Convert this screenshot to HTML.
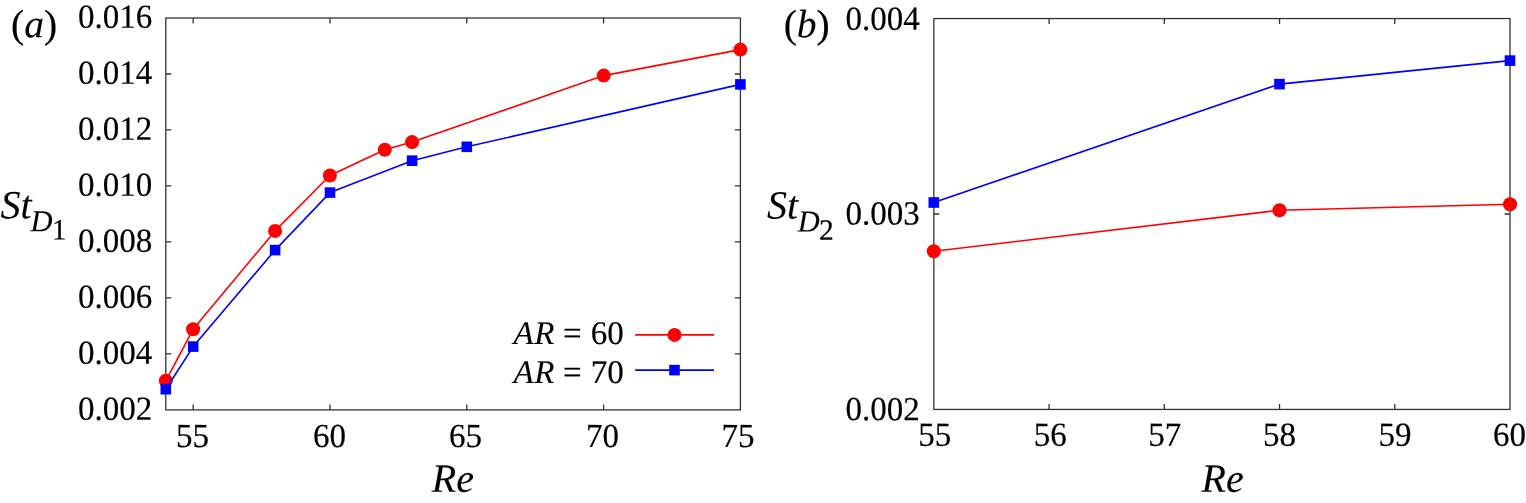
<!DOCTYPE html>
<html lang="en">
<head>
<meta charset="utf-8">
<title>Strouhal number versus Reynolds number</title>
<style>
html,body{margin:0;padding:0;background:#fff;}
body{width:1526px;height:503px;overflow:hidden;}
svg{display:block;}
text{font-family:"Liberation Serif",serif;fill:#000;stroke:#000;stroke-width:0.2px;}
.tk{font-size:33px;}
.lb{font-size:40px;font-style:italic;stroke-width:0.1px;}
.pn{font-size:39.5px;}
.sub{font-size:30.5px;font-style:italic;stroke-width:0.1px;}
.sub2{font-size:29.5px;}
.lg{font-size:33px;}
.it{font-style:italic;stroke-width:0.1px;}
</style>
</head>
<body>
<svg width="1526" height="503" viewBox="0 0 1526 503">
<rect width="1526" height="503" fill="#fff"/>
<!-- panel (a) -->
<rect x="165.8" y="18" width="574.6" height="391.9" fill="none" stroke="#333" stroke-width="1.3"/>
<path d="M193.16 409.9v-5.5M193.16 18v5.5M329.97 409.9v-5.5M329.97 18v5.5M466.78 409.9v-5.5M466.78 18v5.5M603.59 409.9v-5.5M603.59 18v5.5M165.8 353.91h5.5M740.4 353.91h-5.5M165.8 297.93h5.5M740.4 297.93h-5.5M165.8 241.94h5.5M740.4 241.94h-5.5M165.8 185.96h5.5M740.4 185.96h-5.5M165.8 129.97h5.5M740.4 129.97h-5.5M165.8 73.99h5.5M740.4 73.99h-5.5" fill="none" stroke="#333" stroke-width="1.3"/>
<g class="tk" text-anchor="end">
<text transform="translate(152.2 27.8) rotate(0.03) scale(1 1.02)">0.016</text>
<text transform="translate(152.2 83.79) rotate(0.03) scale(1 1.02)">0.014</text>
<text transform="translate(152.2 139.77) rotate(0.03) scale(1 1.02)">0.012</text>
<text transform="translate(152.2 195.76) rotate(0.03) scale(1 1.02)">0.010</text>
<text transform="translate(152.2 251.74) rotate(0.03) scale(1 1.02)">0.008</text>
<text transform="translate(152.2 307.73) rotate(0.03) scale(1 1.02)">0.006</text>
<text transform="translate(152.2 363.71) rotate(0.03) scale(1 1.02)">0.004</text>
<text transform="translate(152.2 419.7) rotate(0.03) scale(1 1.02)">0.002</text>
</g>
<g class="tk" text-anchor="middle">
<text transform="translate(192.56 447.1) rotate(0.03) scale(1 1.02)">55</text>
<text transform="translate(329.47 447.1) rotate(0.03) scale(1 1.02)">60</text>
<text transform="translate(465.38 447.1) rotate(0.03) scale(1 1.02)">65</text>
<text transform="translate(602.49 447.1) rotate(0.03) scale(1 1.02)">70</text>
<text transform="translate(737.9 447.1) rotate(0.03) scale(1 1.02)">75</text>
</g>
<g fill="#ff0000" stroke="none">
<polyline points="165.8,380.8 193.1,329.3 275.1,230.9 329.9,175.5 384.8,149.8 412.1,142.1 603.7,75.6 740.4,49.6" fill="none" stroke="#ff0000" stroke-width="1.6" stroke-linejoin="round"/>
<circle cx="165.8" cy="380.8" r="7.0"/>
<circle cx="193.1" cy="329.3" r="7.0"/>
<circle cx="275.1" cy="230.9" r="7.0"/>
<circle cx="329.9" cy="175.5" r="7.0"/>
<circle cx="384.8" cy="149.8" r="7.0"/>
<circle cx="412.1" cy="142.1" r="7.0"/>
<circle cx="603.7" cy="75.6" r="7.0"/>
<circle cx="740.4" cy="49.6" r="7.0"/>
</g>
<g fill="#0000ff" stroke="none">
<polyline points="165.8,389.2 193.2,346.6 275.1,250.1 330,192.6 412.1,160.7 466.8,146.8 740.4,84.4" fill="none" stroke="#0000ff" stroke-width="1.6" stroke-linejoin="round"/>
<rect x="160.5" y="383.9" width="10.6" height="10.6"/>
<rect x="187.9" y="341.3" width="10.6" height="10.6"/>
<rect x="269.8" y="244.8" width="10.6" height="10.6"/>
<rect x="324.7" y="187.3" width="10.6" height="10.6"/>
<rect x="406.8" y="155.4" width="10.6" height="10.6"/>
<rect x="461.5" y="141.5" width="10.6" height="10.6"/>
<rect x="735.1" y="79.1" width="10.6" height="10.6"/>
</g>
<text class="lg" transform="translate(513.4 344) rotate(0.03)"><tspan class="it">A</tspan><tspan class="it" dx="0.6">R</tspan><tspan dx="0.5"> = </tspan><tspan dx="0.7">60</tspan></text>
<text class="lg" transform="translate(513.4 383) rotate(0.03)"><tspan class="it">A</tspan><tspan class="it" dx="0.6">R</tspan><tspan dx="0.5"> = </tspan><tspan dx="0.7">70</tspan></text>
<path d="M635.2 334.9H714" stroke="#ff0000" stroke-width="1.6"/><circle cx="674.5" cy="334.9" r="7.0" fill="#ff0000"/>
<path d="M635.2 370.1H714" stroke="#0000ff" stroke-width="1.6"/><rect x="669.2" y="364.8" width="10.6" height="10.6" fill="#0000ff"/>
<text class="pn" transform="translate(11 37.3) rotate(0.03)">(<tspan class="it">a</tspan>)</text>
<text class="lb" transform="translate(0.6 218.2) rotate(0.03)">St</text>
<text class="sub" transform="translate(30.5 231.3) rotate(0.03)">D</text>
<text class="sub2" transform="translate(51.7 239.6) rotate(0.03)">1</text>
<text class="lb" transform="translate(431.7 491.7) rotate(0.03)">Re</text>
<!-- panel (b) -->
<rect x="933.85" y="18.55" width="576.15" height="390.9" fill="none" stroke="#333" stroke-width="1.3"/>
<path d="M1049.08 409.45v-5.5M1049.08 18.55v5.5M1164.31 409.45v-5.5M1164.31 18.55v5.5M1279.54 409.45v-5.5M1279.54 18.55v5.5M1394.77 409.45v-5.5M1394.77 18.55v5.5M933.85 214h5.5M1510 214h-5.5" fill="none" stroke="#333" stroke-width="1.3"/>
<g class="tk" text-anchor="end">
<text transform="translate(919.85 29.75) rotate(0.03) scale(1 1.02)">0.004</text>
<text transform="translate(919.85 224.6) rotate(0.03) scale(1 1.02)">0.003</text>
<text transform="translate(919.85 420.15) rotate(0.03) scale(1 1.02)">0.002</text>
</g>
<g class="tk" text-anchor="middle">
<text transform="translate(934.85 445.65) rotate(0.03) scale(1 1.02)">55</text>
<text transform="translate(1050.18 445.65) rotate(0.03) scale(1 1.02)">56</text>
<text transform="translate(1164.71 445.65) rotate(0.03) scale(1 1.02)">57</text>
<text transform="translate(1279.44 445.65) rotate(0.03) scale(1 1.02)">58</text>
<text transform="translate(1394.87 445.65) rotate(0.03) scale(1 1.02)">59</text>
<text transform="translate(1509.5 445.65) rotate(0.03) scale(1 1.02)">60</text>
</g>
<g fill="#ff0000" stroke="none">
<polyline points="933.8,251.2 1279.5,210.2 1510,204.3" fill="none" stroke="#ff0000" stroke-width="1.6" stroke-linejoin="round"/>
<circle cx="933.8" cy="251.2" r="7.0"/>
<circle cx="1279.5" cy="210.2" r="7.0"/>
<circle cx="1510" cy="204.3" r="7.0"/>
</g>
<g fill="#0000ff" stroke="none">
<polyline points="933.8,202.5 1279.5,84.1 1510,60.6" fill="none" stroke="#0000ff" stroke-width="1.6" stroke-linejoin="round"/>
<rect x="928.5" y="197.2" width="10.6" height="10.6"/>
<rect x="1274.2" y="78.8" width="10.6" height="10.6"/>
<rect x="1504.7" y="55.3" width="10.6" height="10.6"/>
</g>
<text class="pn" transform="translate(783.7 37.3) rotate(0.03)">(<tspan class="it">b</tspan>)</text>
<text class="lb" transform="translate(766.9 218.5) rotate(0.03)">St</text>
<text class="sub" transform="translate(797.8 231.5) rotate(0.03)">D</text>
<text class="sub2" transform="translate(819 239.8) rotate(0.03)">2</text>
<text class="lb" transform="translate(1201.6 491.7) rotate(0.03)">Re</text>
</svg>
</body>
</html>
